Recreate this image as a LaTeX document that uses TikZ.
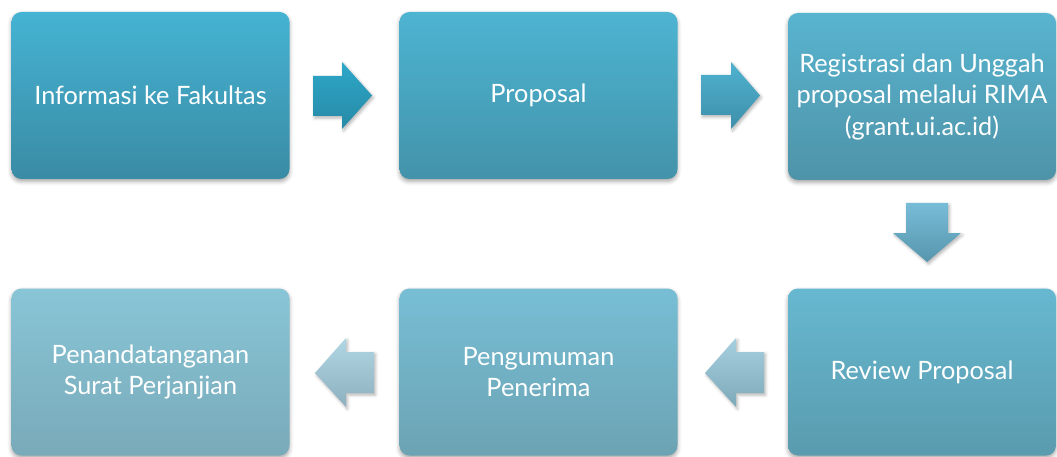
\documentclass[tikz,border=0pt]{standalone}
\usepackage{fontspec}
\setmainfont{Lato}
\usetikzlibrary{shadows.blur}
\begin{document}
\begin{tikzpicture}[x=1pt,y=-1pt,
  box/.style={rounded corners=10pt, minimum height=167pt, inner sep=0pt,
    blur shadow={shadow xshift=0pt, shadow yshift=-2.5pt, shadow blur radius=4pt, shadow opacity=35},
    text=white, font=\fontsize{25.3}{31.5}\selectfont, align=center},
  blockarrow/.style={blur shadow={shadow xshift=1.5pt, shadow yshift=-2pt, shadow blur radius=3pt, shadow opacity=30}}]
\useasboundingbox (0,0) rectangle (1057,457);
% boxes
\node[box, minimum width=278pt, top color={rgb,255:red,69;green,179;blue,211}, bottom color={rgb,255:red,58;green,139;blue,164}] (b1) at (150.5,95.5) {Informasi ke Fakultas};
\node[box, minimum width=278pt, top color={rgb,255:red,77;green,180;blue,210}, bottom color={rgb,255:red,67;green,147;blue,170}] (b2) at (538.5,95.5) {Proposal};
\node[box, minimum width=268pt, top color={rgb,255:red,88;green,180;blue,207}, bottom color={rgb,255:red,78;green,147;blue,168}] (b3) at (922,96.5) {Registrasi dan Unggah\\proposal melalui RIMA\\(grant.ui.ac.id)};
\node[box, minimum width=268pt, top color={rgb,255:red,102;green,184;blue,208}, bottom color={rgb,255:red,90;green,155;blue,174}] (b6) at (922,372) {Review Proposal};
\node[box, minimum width=278pt, top color={rgb,255:red,119;green,190;blue,213}, bottom color={rgb,255:red,108;green,163;blue,179}] (b5) at (538.5,372) {Pengumuman\\Penerima};
\node[box, minimum width=278pt, top color={rgb,255:red,136;green,197;blue,214}, bottom color={rgb,255:red,121;green,170;blue,185}] (b4) at (150.5,372) {Penandatanganan\\Surat Perjanjian};
% block arrows
\path[blockarrow, top color={rgb,255:red,46;green,167;blue,200}, bottom color={rgb,255:red,38;green,138;blue,167}]
  (313,76) -- (342,76) -- (342,62) -- (372,95.5) -- (342,129) -- (342,116) -- (313,116) -- cycle;
\path[blockarrow, top color={rgb,255:red,79;green,178;blue,208}, bottom color={rgb,255:red,62;green,143;blue,170}]
  (701,75) -- (731,75) -- (731,62) -- (760,95.5) -- (731,129) -- (731,115) -- (701,115) -- cycle;
\path[blockarrow, top color={rgb,255:red,120;green,188;blue,216}, bottom color={rgb,255:red,87;green,150;blue,173}]
  (906,203) -- (948,203) -- (948,233) -- (961,233) -- (927,262) -- (893,233) -- (906,233) -- cycle;
\path[blockarrow, top color={rgb,255:red,166;green,208;blue,224}, bottom color={rgb,255:red,126;green,169;blue,185}]
  (764,352) -- (736,352) -- (736,338) -- (705,373) -- (736,407) -- (736,393) -- (764,393) -- cycle;
\path[blockarrow, top color={rgb,255:red,176;green,214;blue,228}, bottom color={rgb,255:red,142;green,176;blue,190}]
  (374,352) -- (346,352) -- (346,338) -- (315,373) -- (346,407) -- (346,393) -- (374,393) -- cycle;
\end{tikzpicture}
\end{document}
